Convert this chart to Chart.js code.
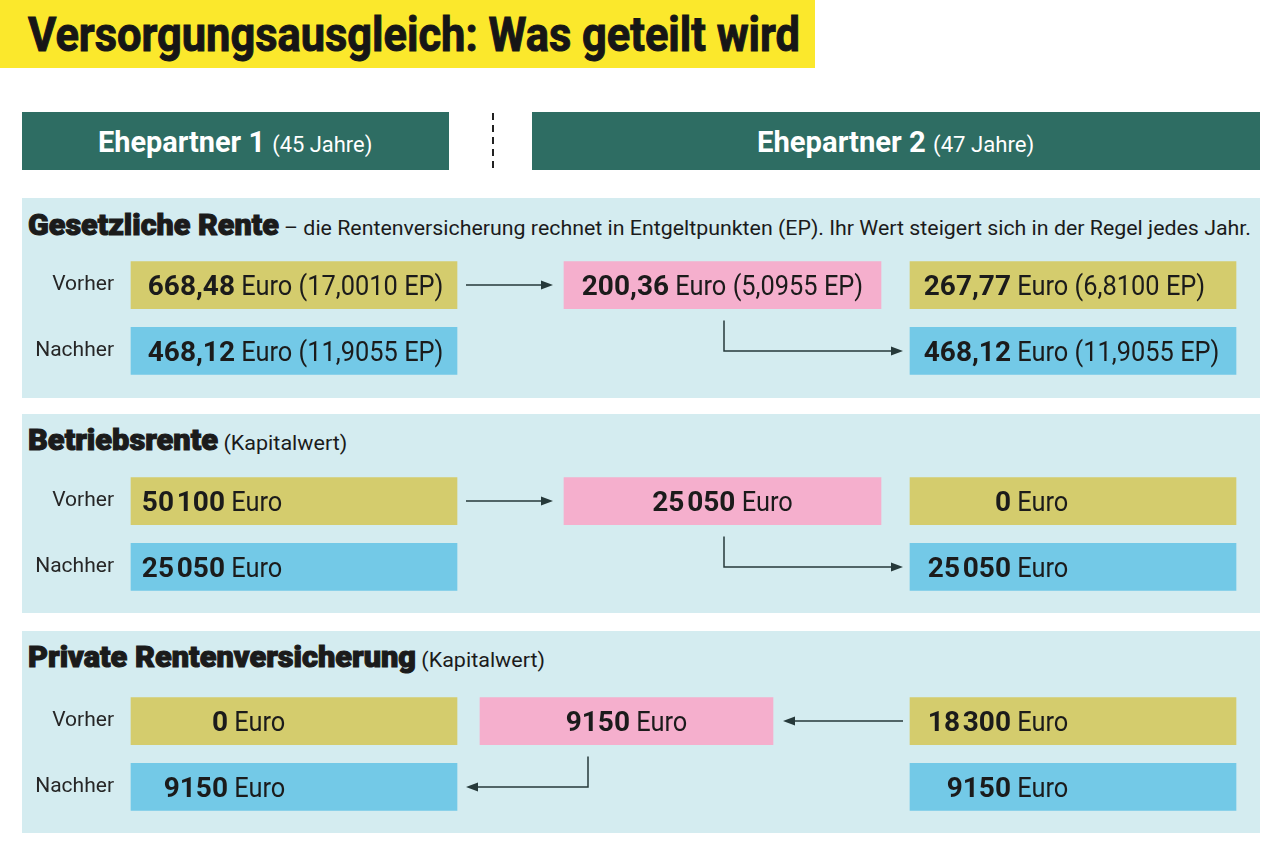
<!DOCTYPE html>
<html lang="de">
<head>
<meta charset="utf-8">
<title>Versorgungsausgleich: Was geteilt wird</title>
<script src="https://cdn.jsdelivr.net/npm/chart.js@4.4.1/dist/chart.umd.min.js"></script>
<style>
  html, body { margin: 0; padding: 0; background: #fff; }
  body { width: 1280px; height: 854px; position: relative; overflow: hidden;
         font-family: Roboto, 'Noto Sans', sans-serif; color: #1b1b1b; }
  .fit { position: absolute; white-space: nowrap; transform-origin: 0 0; line-height: 1; }
  #titleBand { position: absolute; left: 0; top: 0; width: 815px; height: 68px; background: #fbe82c; }
  #title { font-weight: 700; font-size: 48px; color: #161616; -webkit-text-stroke: 1px #161616; }
  .head { position: absolute; top: 112px; height: 58px; background: #2e6d63; }
  .headText { color: #fff; font-weight: 700; font-size: 29px; }
  .headText span { font-weight: 400; font-size: 22px; }
  #divider { position: absolute; left: 492px; top: 113px; width: 2px; height: 58px;
             background: repeating-linear-gradient(to bottom, #222 0 7px, transparent 7px 12px); }
  .section { position: absolute; left: 22px; width: 1238px; background: #d4ecf0; }
  .section canvas { position: absolute; left: 0; }
  .secText { font-weight: 900; font-size: 30px; line-height: 30px; color: #1b1b1b; }
  .secText b { -webkit-text-stroke: 1.1px #1b1b1b; }
  .secText span { font-weight: 400; font-size: 21px; }
</style>
</head>
<body>
<div id="titleBand"></div>
<div id="title" class="fit">Versorgungsausgleich: Was geteilt wird</div>
<div class="head" style="left:22px;width:427px"></div>
<div id="divider"></div>
<div class="head" style="left:532px;width:728px"></div>
<div id="head1" class="fit headText"></div>
<div id="head2" class="fit headText"></div>
<div id="sections"></div>

<script>
// Werte aus der Grafik
const partners     = ['Ehepartner 1', 'Ehepartner 2'];
const partnerAges  = [45, 47];
const rowLabels    = ['Vorher', 'Nachher'];
const sectionNames = ['Gesetzliche Rente', 'Betriebsrente', 'Private Rentenversicherung'];
const sectionNotes = [
  ' – die Rentenversicherung rechnet in Entgeltpunkten (EP). Ihr Wert steigert sich in der Regel jedes Jahr.',
  ' (Kapitalwert)',
  ' (Kapitalwert)'
];
const decimals      = [2, 0, 0];
const p1Before      = [668.48, 50100, 0];
const p1After       = [468.12, 25050, 9150];
const shared        = [200.36, 25050, 9150];
const p2Before      = [267.77, 0, 18300];
const p2After       = [468.12, 25050, 9150];
const p1BeforeEP    = [17.0010, null, null];
const p1AfterEP     = [11.9055, null, null];
const sharedEP      = [5.0955, null, null];
const p2BeforeEP    = [6.8100, null, null];
const p2AfterEP     = [11.9055, null, null];
const sharedFrom    = [1, 1, 2];   // wer abgibt

// Layout (Seitenpixel)
const L = {
  secTop: [198, 414, 631], secH: [200, 199, 202],
  secTextY: [226, 441, 658], secTextW: [1223, 319, 517],
  chartTop: [54, 54, 57], chartH: 132,
  col1: [131, 457], col3: [910, 1236],
  mid: [[564, 881], [564, 881], [480, 773]],
  elbowX: [724, 724, 588],
  anchor1: [235, 225, 228], anchor3: 1011
};
const C = { before: '#d4cc6d', after: '#73c9e7', share: '#f5afcd', arrow: '#26393a', text: '#1b1b1b' };
const FONT = 'Roboto, "Noto Sans", sans-serif';
const BOLD = '700 28px ' + FONT, REG = '400 27px ' + FONT, REG_SX = 0.94;

function fmtAmount(v, d) {
  if (d) return v.toFixed(d).replace('.', ',');
  return v >= 10000 ? String(v).replace(/\B(?=(\d{3})+(?!\d))/g, '\u200A') : String(v);
}
const fmtEP = v => ' (' + v.toFixed(4).replace('.', ',') + ' EP)';

function fit(el, width, left, cy) {
  const w = el.offsetWidth, h = el.offsetHeight;
  el.style.transform = 'scaleX(' + (width / w) + ')';
  el.style.left = left + 'px';
  el.style.top = (cy - h / 2) + 'px';
}

function arrowHead(ctx, x, y, dir) {
  ctx.beginPath();
  ctx.moveTo(x, y);
  ctx.lineTo(x - dir * 12, y - 4.5);
  ctx.lineTo(x - dir * 12, y + 4.5);
  ctx.closePath();
  ctx.fill();
}

// Text in den Kästen + Pfeile
const boxPlugin = {
  id: 'boxes',
  afterDatasetsDraw(chart) {
    const ctx = chart.ctx, s = chart.options.plugins.boxes;
    const x = chart.scales.x;
    ctx.save();
    ctx.fillStyle = C.text;
    ctx.textBaseline = 'alphabetic';
    chart.data.datasets.forEach((ds, di) => {
      chart.getDatasetMeta(di).data.forEach((bar, ri) => {
        const t = ds.texts[ri];
        if (!t) return;
        const base = bar.y + 10;
        ctx.font = BOLD;
        const wb = ctx.measureText(t[0]).width;
        ctx.font = REG;
        const wr = ctx.measureText(t[1]).width * REG_SX;
        let start;
        if (ds.align === 'center') start = (bar.x + bar.base) / 2 - (wb + wr) / 2;
        else start = x.getPixelForValue(ds.anchor) - wb;
        ctx.font = BOLD;
        ctx.fillText(t[0], start, base);
        ctx.save();
        ctx.translate(start + wb, base);
        ctx.scale(REG_SX, 1);
        ctx.font = REG;
        ctx.fillText(t[1], 0, 0);
        ctx.restore();
      });
    });

    const y0 = chart.scales.y.getPixelForValue(0), y1 = chart.scales.y.getPixelForValue(1);
    const mid = L.mid[s.i];
    ctx.strokeStyle = C.arrow; ctx.fillStyle = C.arrow; ctx.lineWidth = 1.5;
    const ex = x.getPixelForValue(L.elbowX[s.i]);
    const eTop = y0 + 23.5 + 12;
    let a, b, c;
    if (s.from === 1) {
      a = x.getPixelForValue(L.col1[1] + 9); b = x.getPixelForValue(mid[0] - 11);
      c = x.getPixelForValue(L.col3[0] - 7);
    } else {
      a = x.getPixelForValue(L.col3[0] - 7); b = x.getPixelForValue(mid[1] + 10);
      c = x.getPixelForValue(L.col1[1] + 9);
    }
    const dir = b > a ? 1 : -1;
    ctx.beginPath(); ctx.moveTo(a, y0); ctx.lineTo(b - dir * 10, y0); ctx.stroke();
    arrowHead(ctx, b, y0, dir);
    const dir2 = c > ex ? 1 : -1;
    ctx.beginPath(); ctx.moveTo(ex, eTop); ctx.lineTo(ex, y1); ctx.lineTo(c - dir2 * 10, y1); ctx.stroke();
    arrowHead(ctx, c, y1, dir2);
    ctx.restore();
  }
};

function buildSection(i) {
  const sec = document.createElement('div');
  sec.className = 'section';
  sec.style.top = L.secTop[i] + 'px';
  sec.style.height = L.secH[i] + 'px';
  const cv = document.createElement('canvas');
  cv.width = 1238; cv.height = L.chartH;
  cv.style.top = L.chartTop[i] + 'px';
  sec.appendChild(cv);
  document.getElementById('sections').appendChild(sec);

  const title = document.createElement('div');
  title.className = 'fit secText';
  title.innerHTML = '<b>' + sectionNames[i] + '</b><span>' + sectionNotes[i] + '</span>';
  document.body.appendChild(title);
  fit(title, L.secTextW[i], 28, L.secTextY[i]);

  const d = decimals[i];
  const txt = (v, ep) => [fmtAmount(v, d), ' Euro' + (ep != null ? fmtEP(ep) : '')];

  new Chart(cv.getContext('2d'), {
    type: 'bar',
    data: {
      labels: rowLabels,
      datasets: [
        { data: [L.col1, L.col1], backgroundColor: [C.before, C.after],
          texts: [txt(p1Before[i], p1BeforeEP[i]), txt(p1After[i], p1AfterEP[i])], anchor: L.anchor1[i] },
        { data: [L.mid[i], null], backgroundColor: C.share,
          texts: [txt(shared[i], sharedEP[i]), null], align: 'center' },
        { data: [L.col3, L.col3], backgroundColor: [C.before, C.after],
          texts: [txt(p2Before[i], p2BeforeEP[i]), txt(p2After[i], p2AfterEP[i])], anchor: L.anchor3 }
      ]
    },
    options: {
      indexAxis: 'y', responsive: false, animation: false,
      layout: { padding: 0, autoPadding: false },
      datasets: { bar: { grouped: false, barThickness: 47, borderWidth: 0 } },
      plugins: { legend: { display: false }, tooltip: { enabled: false }, boxes: { i, from: sharedFrom[i] } },
      scales: {
        x: { type: 'linear', display: false, min: 114, max: 1260 },
        y: { type: 'category', offset: true,
             grid: { display: false, drawTicks: false }, border: { display: false },
             ticks: { color: '#262626', font: { family: FONT, size: 21, lineHeight: 0.01 }, padding: 0 },
             afterFit: sc => { sc.width = 92; } }
      }
    },
    plugins: [boxPlugin]
  });
}

function render() {
  fit(document.getElementById('title'), 772, 28, 35);
  const h1 = document.getElementById('head1'), h2 = document.getElementById('head2');
  h1.innerHTML = partners[0] + ' <span>(' + partnerAges[0] + ' Jahre)</span>';
  h2.innerHTML = partners[1] + ' <span>(' + partnerAges[1] + ' Jahre)</span>';
  fit(h1, 274, 98, 142);
  fit(h2, 277, 757, 142);
  sectionNames.forEach((_, i) => buildSection(i));
}

document.fonts.ready.then(render);
</script>
</body>
</html>
